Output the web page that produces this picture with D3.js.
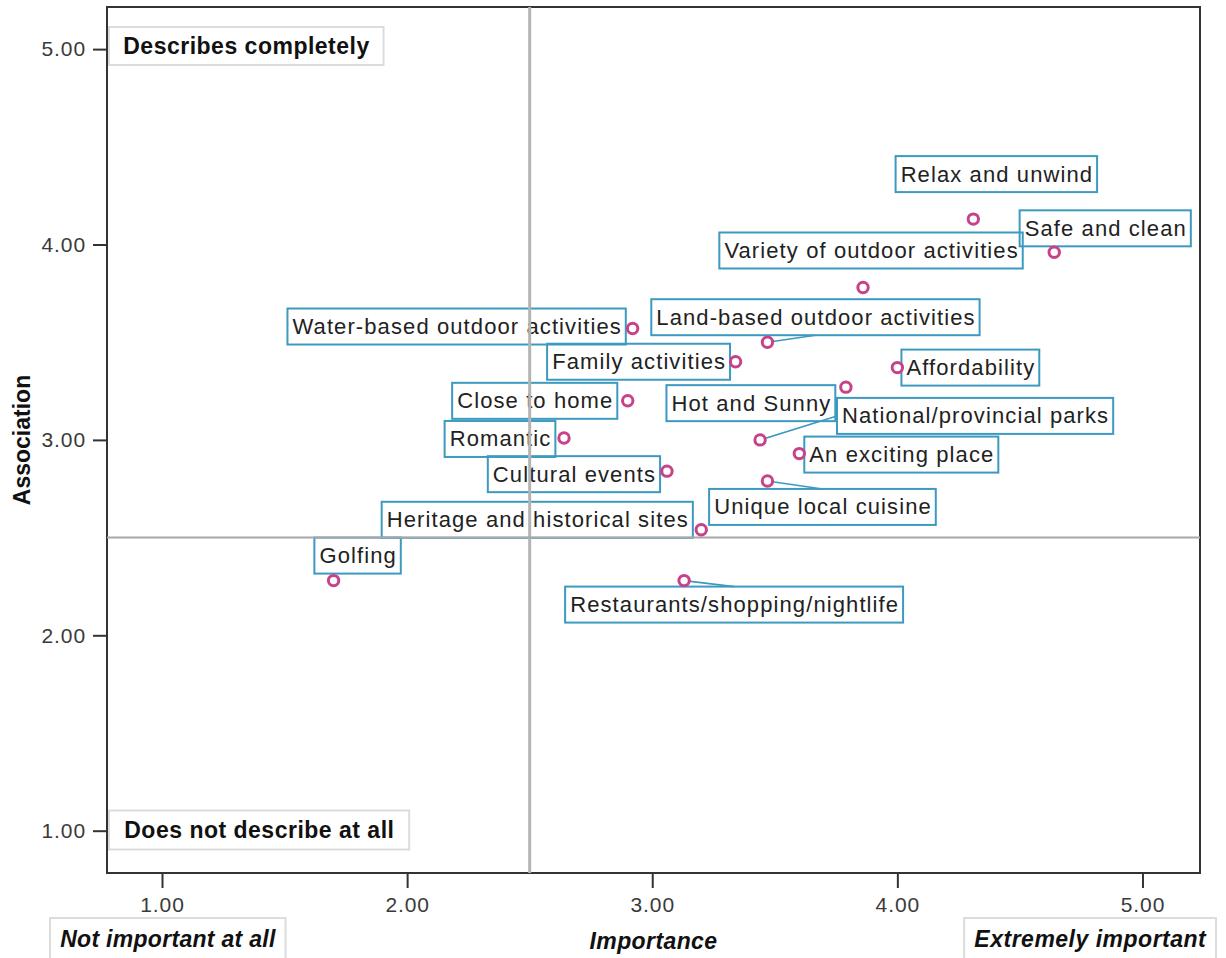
<!DOCTYPE html>
<html>
<head>
<meta charset="utf-8">
<script src="https://cdn.jsdelivr.net/npm/d3@7"></script>
<style>
  body { margin: 0; background: #fff; }
  text { font-family: "Liberation Sans", Arial, sans-serif; }
</style>
</head>
<body>
<script>
// ---- data ----
const attributes = [
  "Relax and unwind", "Safe and clean", "Variety of outdoor activities",
  "Water-based outdoor activities", "Land-based outdoor activities", "Family activities",
  "Affordability", "Hot and Sunny", "National/provincial parks", "Close to home",
  "Romantic", "An exciting place", "Cultural events", "Unique local cuisine",
  "Heritage and historical sites", "Golfing", "Restaurants/shopping/nightlife"
];
const importance = [4.31, 4.64, 3.86, 2.92, 3.47, 3.34, 4.00, 3.79, 3.44, 2.90,
                    2.64, 3.60, 3.06, 3.47, 3.20, 1.70, 3.13];
const association = [4.13, 3.96, 3.78, 3.57, 3.50, 3.40, 3.37, 3.27, 3.00, 3.20,
                     3.01, 2.93, 2.84, 2.79, 2.54, 2.28, 2.28];
// label layout (box-centre offsets from point, px)
const labelDx = [23, 51, 8, -176, 48, -97, 73, -95, 215, -93, -64, 102, -93, 55, -164, 24, 50];
const labelDy = [-45, -24, -37, -2, -25, 0, 0, 16, -24, 0, 1, 1, 3, 26, -10, -25, 24];
const leaderLabels = ["Land-based outdoor activities", "National/provincial parks",
                      "Unique local cuisine", "Restaurants/shopping/nightlife"];
const tickValues = [1, 2, 3, 4, 5];
const refImportance = 2.5, refAssociation = 2.5;
const cornerTop = "Describes completely", cornerBottom = "Does not describe at all";
const xLowLabel = "Not important at all", xTitle = "Importance", xHighLabel = "Extremely important";
const yTitle = "Association";

// ---- layout ----
const W = 1226, H = 958;
const m = { left: 107, right: 26, top: 7, bottom: 85 };
const svg = d3.select("body").append("svg").attr("width", W).attr("height", H);

const x = d3.scaleLinear().domain([0.7756, 5.2347]).range([m.left, W - m.right]);
const y = d3.scaleLinear().domain([0.7835, 5.2155]).range([H - m.bottom, m.top]);

const boxColor = "#3c9ac0", ptColor = "#c7428a";

// axes
const yAxis = svg.append("g").attr("transform", `translate(${m.left},0)`)
  .call(d3.axisLeft(y).tickValues(tickValues).tickSize(14).tickPadding(7).tickFormat(d3.format(".2f")));
const xAxis = svg.append("g").attr("transform", `translate(0,${H - m.bottom})`)
  .call(d3.axisBottom(x).tickValues(tickValues).tickSize(15).tickPadding(9).tickFormat(d3.format(".2f")));
[yAxis, xAxis].forEach(g => {
  g.select(".domain").remove();
  g.selectAll(".tick line").attr("stroke", "#333").attr("stroke-width", 2);
  g.selectAll(".tick text").attr("fill", "#3a3a3a").style("font-size", "21px")
    .style("letter-spacing", "0.9px").style("font-family", "'Liberation Sans', Arial, sans-serif");
});

// frame
svg.append("rect").attr("x", m.left).attr("y", m.top)
  .attr("width", W - m.left - m.right).attr("height", H - m.top - m.bottom)
  .attr("fill", "none").attr("stroke", "#333").attr("stroke-width", 2);

// boxed text helper
function boxedText(g, str, cx, cy, opts) {
  const t = g.append("text").text(str)
    .attr("x", cx).attr("y", cy).attr("text-anchor", "middle").attr("dominant-baseline", "central")
    .attr("fill", opts.fill || "#222")
    .style("font-size", opts.size + "px").style("font-weight", opts.weight || "normal")
    .style("font-style", opts.style || "normal").style("letter-spacing", (opts.ls || 0) + "px");
  const w = t.node().getComputedTextLength() + 2 * opts.pad;
  const bx = opts.anchor === "start" ? cx : opts.anchor === "end" ? cx - w : cx - w / 2;
  t.attr("x", bx + w / 2 + (opts.ls || 0) / 2);
  g.insert("rect", "text").attr("x", bx).attr("y", cy - opts.h / 2).attr("width", w).attr("height", opts.h)
    .attr("fill", "none").attr("stroke", opts.stroke).attr("stroke-width", opts.sw || 2);
  return { x0: bx, x1: bx + w, y0: cy - opts.h / 2, y1: cy + opts.h / 2 };
}

// corner annotations
const gc = svg.append("g");
boxedText(gc, cornerTop, 109, 46, { size: 23, weight: "bold", ls: 0.5, pad: 14, h: 38, stroke: "#dcdcdc", anchor: "start", fill: "#111" });
boxedText(gc, cornerBottom, 109, 830, { size: 23, weight: "bold", ls: 0.5, pad: 15, h: 39, stroke: "#dcdcdc", anchor: "start", fill: "#111" });
boxedText(gc, xLowLabel, 50, 939, { size: 23, weight: "bold", style: "italic", ls: 0.3, pad: 10, h: 42, stroke: "#dcdcdc", anchor: "start", fill: "#111" });
boxedText(gc, xHighLabel, 1216, 939, { size: 23, weight: "bold", style: "italic", ls: 0.5, pad: 10, h: 42, stroke: "#dcdcdc", anchor: "end", fill: "#111" });
svg.append("text").text(xTitle).attr("x", (m.left + W - m.right) / 2).attr("y", 941)
  .attr("text-anchor", "middle").attr("dominant-baseline", "central").attr("fill", "#111")
  .style("font-size", "23px").style("font-weight", "bold").style("font-style", "italic")
  .style("letter-spacing", "0.4px");
svg.append("text").text(yTitle)
  .attr("transform", `translate(22,${(m.top + H - m.bottom) / 2}) rotate(-90)`)
  .attr("text-anchor", "middle").attr("dominant-baseline", "central").attr("fill", "#111")
  .style("font-size", "23px").style("font-weight", "bold");

// point labels
const gl = svg.append("g");
const gLead = gl.append("g");
attributes.forEach((name, i) => {
  const px = x(importance[i]), py = y(association[i]);
  const cx = px + labelDx[i], cy = py + labelDy[i];
  const b = boxedText(gl.append("g"), name, cx, cy, { size: 22, ls: 1.1, pad: 4.5, h: 36, stroke: boxColor });
  if (leaderLabels.includes(name)) {
    let ex, ey;
    if (px >= b.x0 && px <= b.x1) { ex = (b.x0 + b.x1) / 2; ey = py < b.y0 ? b.y0 : b.y1; }
    else { ey = (b.y0 + b.y1) / 2; ex = px < b.x0 ? b.x0 : b.x1; }
    gLead.append("line").attr("x1", px).attr("y1", py).attr("x2", ex).attr("y2", ey)
      .attr("stroke", boxColor).attr("stroke-width", 1.6);
  }
});

// reference lines
svg.append("line").attr("x1", x(refImportance)).attr("x2", x(refImportance))
  .attr("y1", m.top).attr("y2", H - m.bottom).attr("stroke", "#b4b4b4").attr("stroke-width", 3);
svg.append("line").attr("x1", m.left).attr("x2", W - m.right)
  .attr("y1", y(refAssociation)).attr("y2", y(refAssociation)).attr("stroke", "#a8a8a8").attr("stroke-width", 2);

// points
svg.append("g").selectAll("circle").data(attributes).join("circle")
  .attr("cx", (d, i) => x(importance[i])).attr("cy", (d, i) => y(association[i]))
  .attr("r", 5.2).attr("fill", "#fff").attr("stroke", ptColor).attr("stroke-width", 3);
</script>
</body>
</html>
